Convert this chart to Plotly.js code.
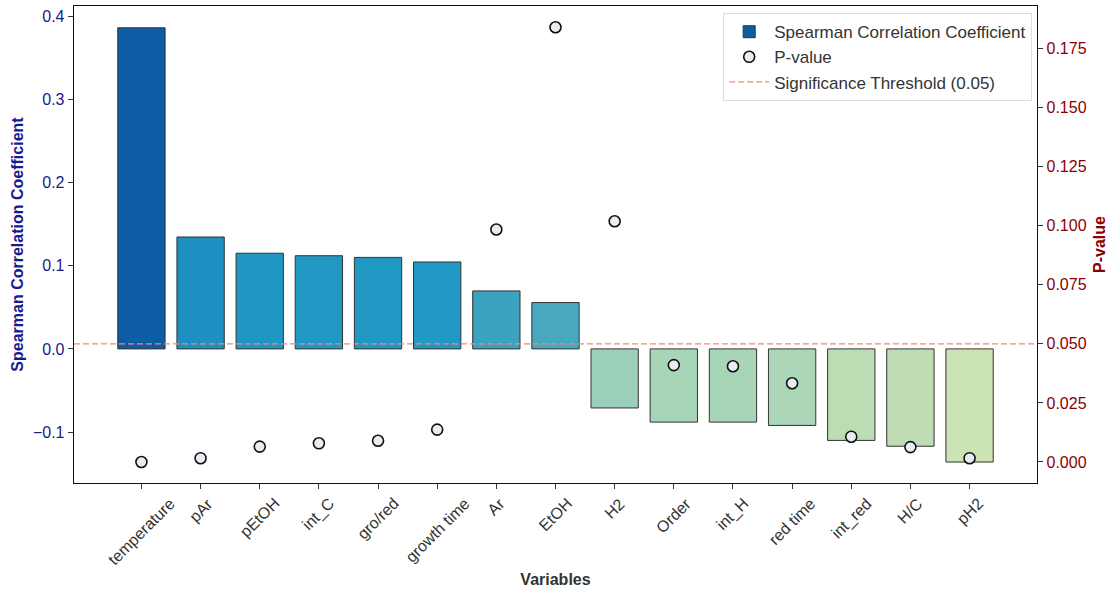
<!DOCTYPE html>
<html>
<head>
<meta charset="utf-8">
<script src="https://cdn.plot.ly/plotly-3.0.1.min.js"></script>
<style>html,body{margin:0;padding:0;background:#fff;}#chart{width:1113px;height:594px;}</style>
</head>
<body>
<div id="chart"></div>
<script>
var variables = ["temperature","pAr","pEtOH","int_C","gro/red","growth time","Ar","EtOH","H2","Order","int_H","red time","int_red","H/C","pH2"];
var spearman = [0.386, 0.1345, 0.115, 0.112, 0.110, 0.1045, 0.0697, 0.0557, -0.071, -0.088, -0.088, -0.092, -0.110, -0.117, -0.136];
var pValues = [0.0000, 0.0016, 0.0065, 0.0079, 0.0090, 0.0137, 0.0984, 0.1840, 0.1019, 0.0410, 0.0405, 0.0333, 0.0107, 0.0063, 0.0016];
var threshold = 0.05;
var barColors = ["#0c5ca6","#1d8fc1","#2096c3","#2197c3","#2197c3","#2299c4","#3ba3c0","#47a8c0","#9ccfba","#a6d5b8","#a8d5b8","#abd6b7","#bcdcb4","#bfddb4","#cce3b3"];

var FONT = "Liberation Sans, Arial, sans-serif";

var traces = [
  {
    type: "bar", x: variables, y: spearman, name: "Spearman Correlation Coefficient",
    width: 0.8,
    marker: {color: barColors, line: {color: "#333333", width: 1}},
    yaxis: "y", xaxis: "x"
  },
  {
    type: "scatter", mode: "markers", x: variables, y: pValues, name: "P-value",
    marker: {size: 11, color: "#e8ecf3", line: {color: "#111111", width: 1.6}},
    yaxis: "y2", xaxis: "x"
  },
  {
    type: "scatter", mode: "lines", x: [0, 1], y: [threshold, threshold],
    name: "Significance Threshold (0.05)",
    line: {color: "#f5876f", width: 1.4, dash: "6px,3px"},
    yaxis: "y2", xaxis: "x2"
  }
];

// Centered, 45-degree rotated category labels (built from the variables array)
var tickAnnotations = variables.map(function (v) {
  return {
    text: v, x: v, xref: "x", y: 0, yref: "paper",
    xanchor: "center", yanchor: "top", yshift: -9,
    textangle: -45, showarrow: false,
    font: {family: FONT, size: 16, color: "#333333"}
  };
});

var layout = {
  width: 1113, height: 594,
  margin: {l: 74, r: 76, t: 6, b: 111},
  paper_bgcolor: "#ffffff", plot_bgcolor: "#ffffff",
  font: {family: FONT, size: 16, color: "#333333"},
  showlegend: true,
  annotations: tickAnnotations,
  xaxis: {
    type: "category", range: [-1.14, 15.14],
    showline: true, linecolor: "#111111", linewidth: 1.3, mirror: true,
    ticks: "outside", ticklen: 5, tickcolor: "#333333",
    showticklabels: false,
    showgrid: false, zeroline: false,
    title: {text: "<b>Variables</b>", font: {size: 16, color: "#333333"}, standoff: 85}
  },
  xaxis2: {overlaying: "x", range: [0, 1], visible: false},
  yaxis: {
    range: [-0.1612, 0.4122], dtick: 0.1, tick0: 0, tickformat: ".1f",
    showline: true, linecolor: "#111111", linewidth: 1.3,
    ticks: "outside", ticklen: 5, tickcolor: "#333333",
    tickfont: {size: 16, color: "#1a1a8c"},
    showgrid: false, zeroline: false,
    title: {text: "<b>Spearman Correlation Coefficient</b>", font: {size: 16, color: "#1a1a8c"}, standoff: 5}
  },
  yaxis2: {
    overlaying: "y", side: "right",
    range: [-0.0089, 0.1930], dtick: 0.025, tick0: 0, tickformat: ".3f",
    showline: true, linecolor: "#111111", linewidth: 1.3,
    ticks: "outside", ticklen: 5, tickcolor: "#333333",
    tickfont: {size: 16, color: "#8b0000"},
    showgrid: false, zeroline: false,
    title: {text: "<b>P-value</b>", font: {size: 16, color: "#8b0000"}, standoff: 8}
  },
  legend: {
    x: 0.995, xanchor: "right", y: 0.985, yanchor: "top",
    bgcolor: "rgba(255,255,255,0.9)", bordercolor: "#dddddd", borderwidth: 1,
    font: {size: 17, color: "#333333"}, traceorder: "normal",
    itemwidth: 40, tracegroupgap: 2
  }
};

Plotly.newPlot("chart", traces, layout, {displayModeBar: false, staticPlot: true});
</script>
</body>
</html>
